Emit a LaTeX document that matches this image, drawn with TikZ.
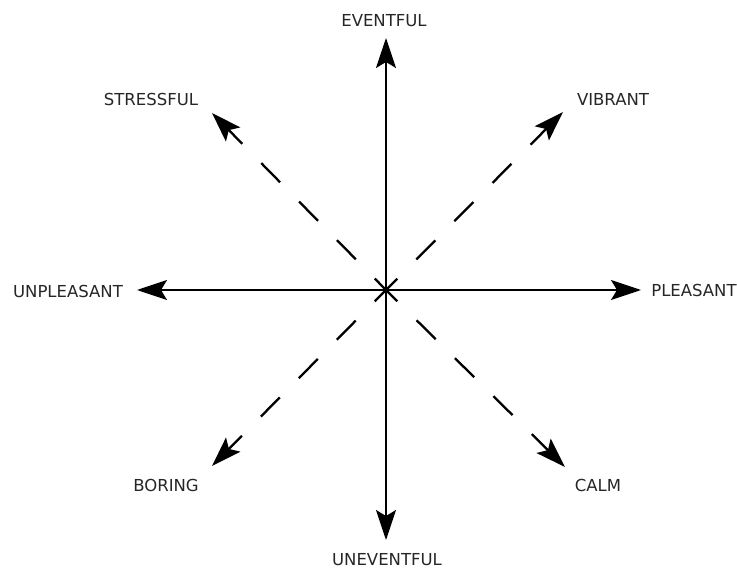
\documentclass[tikz,border=0pt]{standalone}
\usepackage{fontspec}
\setmainfont{DejaVu Sans}
\usetikzlibrary{arrows.meta}

\begin{document}
\begin{tikzpicture}[
  x=1pt, y=-1pt,
  font=\fontsize{16.5}{19}\selectfont,
  >={Stealth[length=30pt,width=20pt,inset=6pt]},
  axis/.style={->,line width=1.8pt},
  mood/.style={->,line width=2.3pt,dash pattern=on 27pt off 27pt,dash phase=11pt},
  lbl/.style={inner sep=0pt,text=black!85}
]
\useasboundingbox (0,0) rectangle (737,572);
% centre and arrow tips
\coordinate (o) at (386,290);
\coordinate (n) at (386,38);
\coordinate (s) at (386,540);
\coordinate (w) at (137,290);
\coordinate (e) at (641,290);
\coordinate (nw) at (212,113);
\coordinate (ne) at (563,112);
\coordinate (sw) at (212,466);
\coordinate (se) at (565,467);
% labels
\node[lbl] (eventful) at (384,21) {EVENTFUL};
\node[lbl] (uneventful) at (387,560) {UNEVENTFUL};
\node[lbl] (unpleasant) at (68,291) {UNPLEASANT};
\node[lbl] (pleasant) at (694,290) {PLEASANT};
\node[lbl] (stressful) at (151,99) {STRESSFUL};
\node[lbl] (vibrant) at (613,99) {VIBRANT};
\node[lbl] (boring) at (166,485) {BORING};
\node[lbl] (calm) at (598,485) {CALM};
% axes
\draw[axis] (o) -- (n);
\draw[axis] (o) -- (s);
\draw[axis] (o) -- (w);
\draw[axis] (o) -- (e);
% diagonals
\draw[mood] (o) -- (nw);
\draw[mood] (o) -- (ne);
\draw[mood] (o) -- (sw);
\draw[mood] (o) -- (se);
\end{tikzpicture}
\end{document}
